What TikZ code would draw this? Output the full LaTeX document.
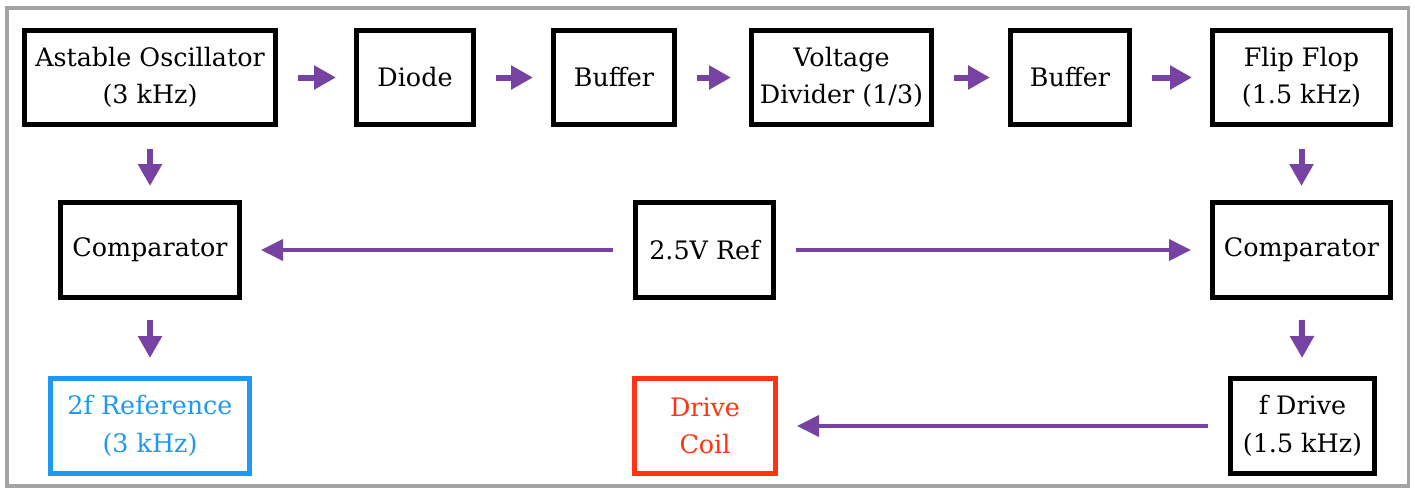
\documentclass[tikz,border=0pt]{standalone}
\usepackage{fontspec}
\setmainfont{DejaVu Serif}
\usetikzlibrary{arrows.meta}
\definecolor{arrowpurple}{HTML}{7643A3}
\definecolor{refblue}{HTML}{1E98F2}
\definecolor{coilred}{HTML}{FF3412}
\definecolor{framegray}{HTML}{A3A3A6}
\tikzset{
  box/.style={draw,line width=2.3pt,minimum width=#1,minimum height=47.7pt,
    inner sep=0pt,align=center,font=\fontsize{12.7}{18.7}\selectfont},
  arr/.style={arrowpurple,line width=3pt,-{Triangle[length=11pt,width=11.5pt]},
    shorten <=10pt,shorten >=9pt},
  longarr/.style={arrowpurple,line width=2pt,-{Triangle[length=11pt,width=10.5pt]},
    shorten <=10pt,shorten >=9.5pt}
}
\begin{document}
\begin{tikzpicture}[x=0.5pt,y=-0.5pt,line join=miter]
  \useasboundingbox (0,0) rectangle (1415,493);
  \draw[framegray,line width=1.7pt] (7,8) rectangle (1408.5,486);
  \node[box=125.7pt,minimum height=47.2pt] (osc) at (150,77.5) {Astable Oscillator\\(3 kHz)};
  \node[box=58.7pt,minimum height=47.2pt] (diode) at (415,77.5) {Diode};
  \node[box=60.7pt,minimum height=47.2pt] (buf1) at (614,77.5) {Buffer};
  \node[box=90.2pt,minimum height=47.2pt] (vdiv) at (841.5,77.5) {Voltage\\Divider (1/3)};
  \node[box=59.7pt,minimum height=47.2pt] (buf2) at (1070,77.5) {Buffer};
  \node[box=89.2pt,minimum height=47.2pt] (flip) at (1301.5,77.5) {Flip Flop\\(1.5 kHz)};
  \node[box=89.7pt] (compL) at (150,250) {Comparator};
  \node[box=69.2pt] (ref) at (704.5,250) {2.5V Ref};
  \node[box=89.2pt] (compR) at (1301.5,250) {Comparator};
  \node[box=99.7pt,draw=refblue,text=refblue] (twof) at (150,426) {2f Reference\\(3 kHz)};
  \node[box=70.7pt,draw=coilred,text=coilred] (coil) at (705,426) {Drive\\Coil};
  \node[box=72.2pt] (fdrive) at (1302.5,426) {f Drive\\(1.5 kHz)};
  \draw[arr] (osc) -- (diode);
  \draw[arr] (diode) -- (buf1);
  \draw[arr] (buf1) -- (vdiv);
  \draw[arr] (vdiv) -- (buf2);
  \draw[arr] (buf2) -- (flip);
  \draw[arr,shorten <=11pt,shorten >=7pt] (osc) -- (compL);
  \draw[arr,shorten <=11pt,shorten >=7pt] (flip) -- (compR);
  \draw[arr] (compL) -- (twof);
  \draw[arr] (compR) -- (fdrive);
  \draw[longarr] (ref) -- (compL);
  \draw[longarr] (ref) -- (compR);
  \draw[longarr] (fdrive) -- (coil);
\end{tikzpicture}
\end{document}
